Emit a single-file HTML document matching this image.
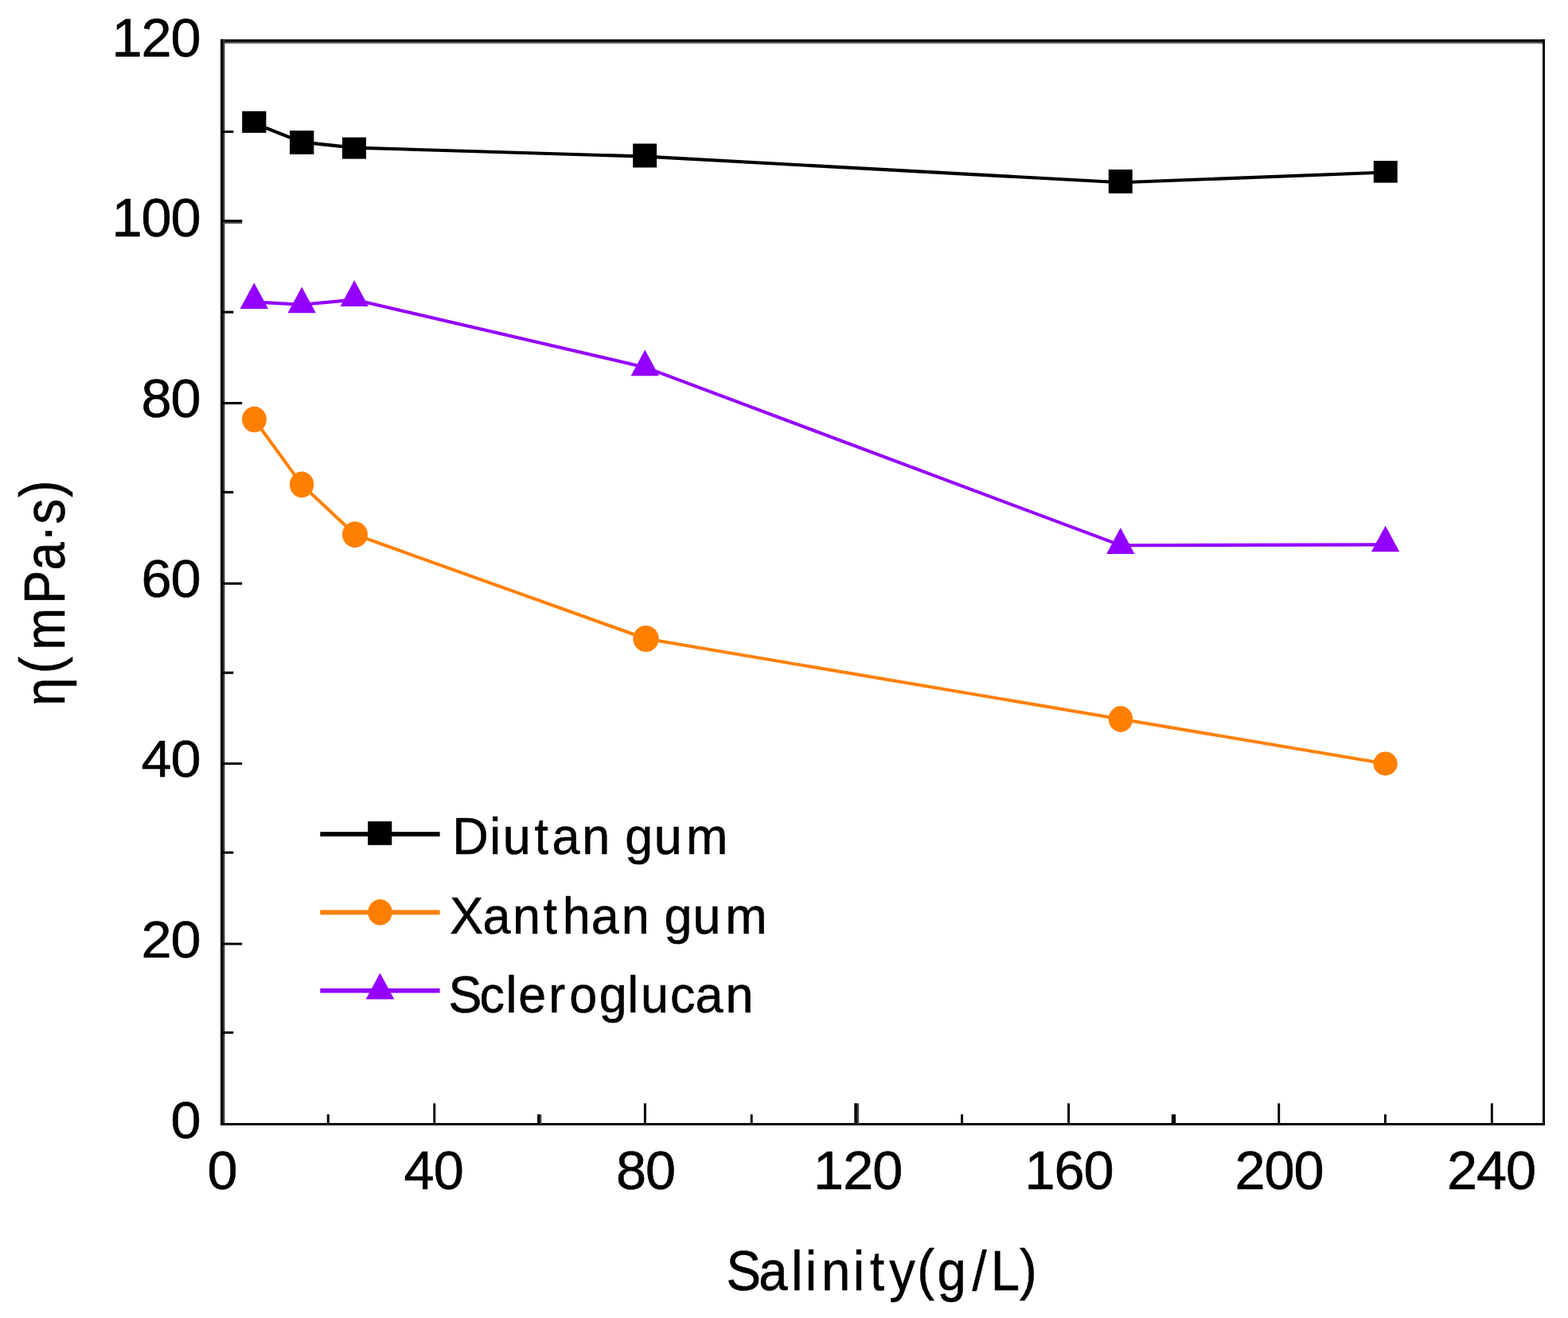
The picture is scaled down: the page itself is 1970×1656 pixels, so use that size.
<!DOCTYPE html>
<html lang="en"><head><meta charset="utf-8"><title>Viscosity vs. salinity</title>
<style>html,body{margin:0;padding:0;background:#fff;}body{width:1970px;height:1656px;overflow:hidden;}svg{display:block;}text{font-family:"Liberation Sans",sans-serif;fill:#000;stroke:#000;stroke-width:0.6px;stroke-linejoin:round;}</style>
</head><body>
<svg width="1970" height="1656" viewBox="0 0 1970 1656">
<rect x="0" y="0" width="1970" height="1656" fill="#fff"/>
<g id="frame">
<rect x="277" y="49.6" width="1664" height="5.1" fill="#555"/>
<rect x="277" y="49.6" width="1664" height="2.9" fill="#000"/>
<rect x="277" y="49.6" width="5.4" height="1364.4" fill="#3a3a3a"/>
<rect x="277" y="49.6" width="3.1" height="1364.4" fill="#000"/>
<rect x="1938" y="49.6" width="3" height="1364.4" fill="#000"/>
<rect x="277" y="1411" width="1664" height="3" fill="#000"/>
</g>
<g id="ticks" fill="#000">
<rect x="280" y="164.0" width="13.3" height="3.0"/>
<rect x="280" y="276.0" width="24.2" height="5.1" fill="#555"/>
<rect x="280" y="276.0" width="24.2" height="3.1"/>
<rect x="280" y="390.6" width="13.3" height="3.1"/>
<rect x="280" y="505.0" width="24.2" height="3.1"/>
<rect x="280" y="616.9" width="13.3" height="3.1"/>
<rect x="280" y="731.6" width="24.2" height="3.1"/>
<rect x="280" y="843.7" width="13.3" height="3.1"/>
<rect x="280" y="957.9" width="24.2" height="3.0"/>
<rect x="280" y="1069.7" width="13.3" height="3.0"/>
<rect x="280" y="1184.5" width="24.2" height="2.9"/>
<rect x="280" y="1295.9" width="13.3" height="3.0"/>
<rect x="410.8" y="1400.2" width="3.0" height="11.8"/>
<rect x="544.3" y="1386.3" width="2.9" height="25.7"/>
<rect x="675.2" y="1400.2" width="5.1" height="11.8" fill="#444"/>
<rect x="675.2" y="1400.2" width="3.1" height="11.8"/>
<rect x="808.9" y="1386.3" width="3.0" height="25.7"/>
<rect x="942.8" y="1400.2" width="2.9" height="11.8"/>
<rect x="1073.5" y="1386.3" width="5.7" height="25.7" fill="#444"/>
<rect x="1073.5" y="1386.3" width="3.2" height="25.7"/>
<rect x="1207.1" y="1400.2" width="3.0" height="11.8"/>
<rect x="1341.1" y="1386.3" width="3.0" height="25.7"/>
<rect x="1471.9" y="1400.2" width="5.3" height="11.8"/>
<rect x="1605.3" y="1386.3" width="2.9" height="25.7"/>
<rect x="1739.0" y="1400.2" width="2.9" height="11.8"/>
<rect x="1872.9" y="1386.3" width="2.9" height="25.7"/>
</g>
<g id="series-diutan">
<polyline points="319.5,155.0 379.3,178.6 445.3,185.6 810.8,196.6 1408.3,229.3 1741.0,216.5" fill="none" stroke="#000" stroke-width="4.1" stroke-linejoin="round" stroke-linecap="butt"/>
<rect x="304.2" y="139.7" width="30.2" height="27.2" fill="#000"/>
<rect x="364.0" y="164.1" width="30.4" height="29.8" fill="#000"/>
<rect x="430.0" y="172.6" width="30.0" height="27.0" fill="#000"/>
<rect x="795.2" y="180.5" width="29.9" height="30.0" fill="#000"/>
<rect x="1392.8" y="213.0" width="29.9" height="30.0" fill="#000"/>
<rect x="1725.8" y="202.1" width="29.9" height="27.5" fill="#000"/>
</g>
<g id="series-scleroglucan">
<polyline points="319.3,379.4 379.2,382.8 445.2,376.6 810.3,461.4 1407.8,685.2 1740.6,684.4" fill="none" stroke="#9400FF" stroke-width="4.1" stroke-linejoin="round" stroke-linecap="butt"/>
<polygon points="319.3,355.2 337.0,388.1 301.6,388.1" fill="#9400FF"/>
<polygon points="379.2,360.4 396.9,393.3 361.5,393.3" fill="#9400FF"/>
<polygon points="445.2,352.1 462.9,385.0 427.5,385.0" fill="#9400FF"/>
<polygon points="810.3,439.4 828.0,472.3 792.6,472.3" fill="#9400FF"/>
<polygon points="1407.8,663.0 1425.5,695.9 1390.1,695.9" fill="#9400FF"/>
<polygon points="1740.6,660.4 1758.3,693.3 1722.9,693.3" fill="#9400FF"/>
</g>
<g id="series-xanthan">
<polyline points="319.5,527.0 379.1,608.9 446.0,671.6 811.5,802.5 1408.0,903.5 1740.6,959.5" fill="none" stroke="#FF8000" stroke-width="4.1" stroke-linejoin="round" stroke-linecap="butt"/>
<ellipse cx="319.5" cy="527.0" rx="15.4" ry="16.2" fill="#FF8000"/>
<ellipse cx="379.1" cy="608.9" rx="15.1" ry="16.3" fill="#FF8000"/>
<ellipse cx="446.0" cy="671.6" rx="16.0" ry="16.4" fill="#FF8000"/>
<ellipse cx="811.5" cy="802.5" rx="16.2" ry="16.5" fill="#FF8000"/>
<ellipse cx="1408.0" cy="903.5" rx="15.2" ry="16.4" fill="#FF8000"/>
<ellipse cx="1740.6" cy="959.5" rx="15.1" ry="15.0" fill="#FF8000"/>
</g>
<g id="legend">
<rect x="402.3" y="1045.2" width="150.3" height="5.7" fill="#000"/>
<rect x="462.2" y="1032" width="30.1" height="29.8" fill="#000"/>
<rect x="402.3" y="1143.4" width="150.3" height="5.9" fill="#FF8000"/>
<ellipse cx="477.5" cy="1146.3" rx="15.3" ry="16.2" fill="#FF8000"/>
<rect x="402.3" y="1241.8" width="150.3" height="5.7" fill="#9400FF"/>
<polygon points="477.5,1222.4 495.3,1255.6 459.7,1255.6" fill="#9400FF"/>
</g>
<g id="ylabels" font-size="68.5">
<text transform="translate(0,70.7) scale(1,1.014)" x="140.5 177.5 214.6" y="0">120</text>
<text transform="translate(0,297.1) scale(1,1.010)" x="140.5 177.5 214.6" y="0">100</text>
<text transform="translate(0,523.7) scale(1,0.990)" x="177.5 214.6" y="0">80</text>
<text transform="translate(0,750.1) scale(1,0.981)" x="177.5 214.6" y="0">60</text>
<text transform="translate(0,976.4) scale(1,0.948)" x="177.5 214.6" y="0">40</text>
<text transform="translate(0,1203.0) scale(1,0.957)" x="177.5 214.6" y="0">20</text>
<text transform="translate(0,1429.5) scale(1,0.948)" x="214.6" y="0">0</text>
</g>
<g id="xlabels" font-size="68.5">
<text x="260.5" y="1494.1">0</text>
<text x="507.6 544.7" y="1494.1">40</text>
<text x="773.9 811.0" y="1494.1">80</text>
<text x="1022.1 1059.2 1096.2" y="1494.1">120</text>
<text x="1287.5 1324.6 1361.6" y="1494.1">160</text>
<text x="1551.4 1588.5 1625.5" y="1494.1">200</text>
<text x="1818.0 1855.1 1892.1" y="1494.1">240</text>
</g>
<g id="legend-text">
<text id="lg1" transform="scale(0.960,1)" x="591.9 641.0 658.0 699.6 722.4 761.8 798.2 817.9 855.9 897.8" y="1072.6" font-size="65.5">Diutan gum</text>
<text id="lg2" transform="scale(0.960,1)" x="588.8 631.8 670.9 711.0 736.2 773.7 813.3 849.7 869.3 906.8 949.3" y="1173.2" font-size="65.5">Xanthan gum</text>
<text id="lg3" transform="scale(0.960,1)" x="587.0 627.5 662.0 678.4 717.9 745.0 784.0 821.2 838.6 877.0 910.0 949.4" y="1271.8" font-size="65.5">Scleroglucan</text>
</g>
<g id="titles">
<text id="xt" transform="scale(0.940,1)" x="970.8 1014.1 1057.4 1076.4 1097.9 1140.2 1162.7 1188.6 1225.8 1252.6 1299.4 1324.2 1362.9" y="1620.8 1620.8 1620.8 1620.8 1620.8 1620.8 1620.8 1620.8 1618.8 1620.8 1620.8 1620.8 1618.8" font-size="69.5">Salinity(g/L)</text>
<text id="yt" transform="rotate(-90) scale(0.870,1)" x="-1019.2 -972.8 -938.7 -872.5 -823.5 -782.4 -757.0 -718.0" y="80.6 76.3 80.6 80.6 80.6 80.6 80.6 76.3" font-size="73.0">η(mPa·s)</text>
</g>
</svg>
</body></html>
